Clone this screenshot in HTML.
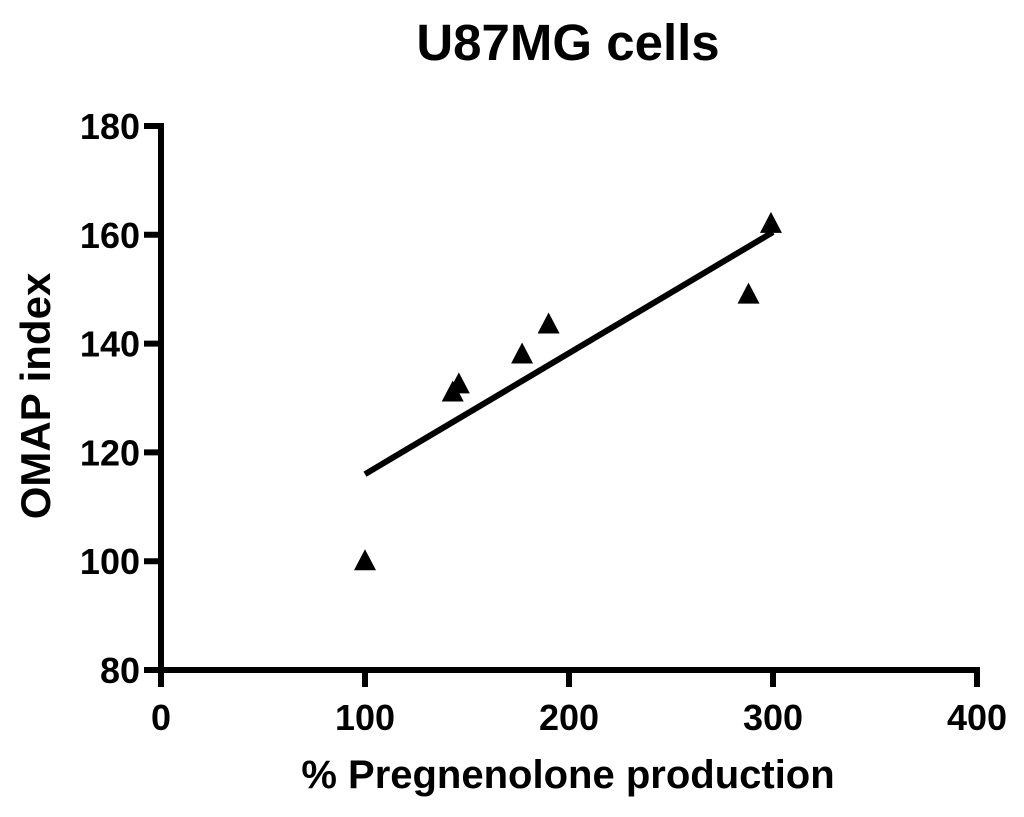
<!DOCTYPE html>
<html><head><meta charset="utf-8"><style>
body{margin:0;background:#fff;}
text{font-family:"Liberation Sans",Arial,sans-serif;font-weight:bold;fill:#000;}
</style></head><body>
<svg width="1024" height="812" viewBox="0 0 1024 812">
<text x="568" y="60" font-size="51" text-anchor="middle">U87MG cells</text>
<text x="568" y="788" font-size="40" text-anchor="middle">% Pregnenolone production</text>
<text transform="translate(50,396) rotate(-90)" font-size="42" text-anchor="middle">OMAP index</text>
<g id="axes"></g>
<g id="marks"></g>
</svg>
<script>
const xTicks=[0,100,200,300,400];
const yTicks=[80,100,120,140,160,180];
const xVals=[100,143,146,177,190,288,299];
const yVals=[100,131,132.5,138,143.5,149,162];
const fitX=[100,300];
const fitY=[116,160.5];
const X=v=>161+v*2.04;
const Y=v=>670-(v-80)*5.44;
const NS="http://www.w3.org/2000/svg";
function mk(t,a,p){const e=document.createElementNS(NS,t);for(const k in a)e.setAttribute(k,a[k]);p.appendChild(e);return e;}
const ax=document.getElementById('axes'),mg=document.getElementById('marks');
const yl=mk('line',{x1:X(0),y1:Y(180)-3,x2:X(0),y2:Y(80)+3,stroke:'#000','stroke-width':6},ax);


const xl=mk('line',{x1:X(0)-3,y1:Y(80),x2:X(400)+3,y2:Y(80),stroke:'#000','stroke-width':6},ax);


xTicks.forEach(v=>{
 mk('line',{x1:X(v),y1:Y(80),x2:X(v),y2:Y(80)+17,stroke:'#000','stroke-width':6},ax);
 const t=mk('text',{x:X(v),y:Y(80)+60,'font-size':36,'text-anchor':'middle'},ax);t.textContent=v;
 
 
});
yTicks.forEach(v=>{
 mk('line',{x1:X(0)-17,y1:Y(v),x2:X(0),y2:Y(v),stroke:'#000','stroke-width':6},ax);
 const t=mk('text',{x:X(0)-21,y:Y(v)+13,'font-size':36,'text-anchor':'end'},ax);t.textContent=v;
 
 
});
const fl=mk('line',{x1:X(fitX[0]),y1:Y(fitY[0]),x2:X(fitX[1]),y2:Y(fitY[1]),stroke:'#000','stroke-width':6},mg);


xVals.forEach((v,i)=>{
 const cx=X(v),cy=Y(yVals[i]);
 const p=mk('polygon',{points:`${cx},${cy-12} ${cx-11},${cy+9} ${cx+11},${cy+9}`,fill:'#000'},mg);
 
 
});
</script>
</body></html>
